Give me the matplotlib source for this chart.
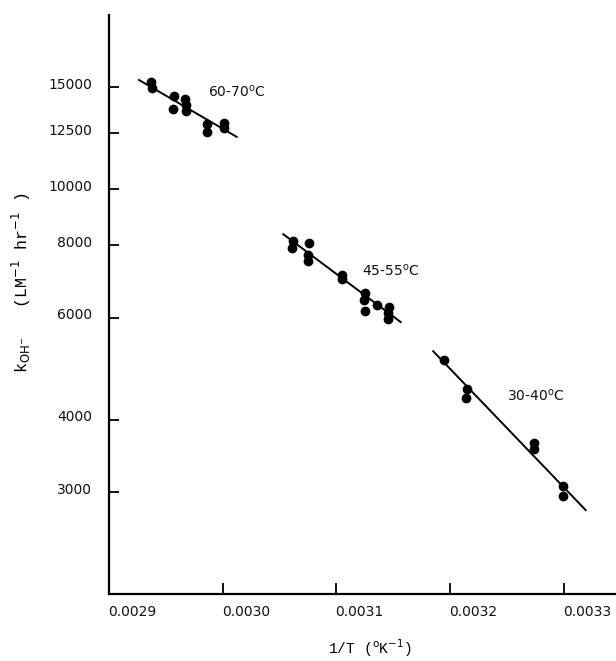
import matplotlib
matplotlib.use("Agg")
import matplotlib.pyplot as plt
import matplotlib.transforms as mtransforms
import numpy as np

# 60-70 C
x_hi = [0.0029367, 0.0029375, 0.0029572, 0.0029566, 0.0029668, 0.0029675, 0.0029675,
        0.0029861, 0.0029858, 0.0030011, 0.0030011]
y_hi = [15314, 14954, 14488, 13761, 14318, 13980, 13653, 12968, 12563, 13020, 12767]
fit_hi_x = [0.0029264, 0.0030123]
fit_hi_y = [15440, 12316]

# 45-55 C
x_mid = [0.0030616, 0.0030607, 0.0030762, 0.0030753, 0.0030748, 0.0031052, 0.0031047,
         0.0031252, 0.0031245, 0.0031252, 0.0031354, 0.0031465, 0.0031457, 0.0031457]
y_mid = [8124, 7910, 8070, 7706, 7504, 7118, 7006, 6617, 6428, 6154, 6319, 6252, 6113, 5978]
fit_mid_x = [0.0030533, 0.0031566]
fit_mid_y = [8362, 5897]

# 30-40 C
x_lo = [0.0031949, 0.0032146, 0.0032137, 0.0032738, 0.0032738, 0.0032990, 0.0032996]
y_lo = [5062, 4511, 4365, 3652, 3557, 3074, 2955]
fit_lo_x = [0.0031852, 0.0033193]
fit_lo_y = [5251, 2792]

xticks = [0.0029, 0.0030, 0.0031, 0.0032, 0.0033]
xtick_labels = ["0.0029", "0.0030", "0.0031", "0.0032", "0.0033"]
yticks = [3000, 4000, 6000, 8000, 10000, 12500, 15000]
ytick_labels = ["3000", "4000", "6000", "8000", "10000", "12500", "15000"]

groups = [
    (x_hi, y_hi, fit_hi_x, fit_hi_y, "60-70$^{\\mathrm{o}}$C", 0.0029875, 14750),
    (x_mid, y_mid, fit_mid_x, fit_mid_y, "45-55$^{\\mathrm{o}}$C", 0.0031225, 7250),
    (x_lo, y_lo, fit_lo_x, fit_lo_y, "30-40$^{\\mathrm{o}}$C", 0.0032501, 4400),
]

fig = plt.figure(figsize=(6.16, 6.61), dpi=100)
ax = fig.add_axes([0.177, 0.1014, 0.823, 0.876])

for xs, ys, fx, fy, lab, tx, ty in groups:
    ax.plot(fx, fy, color="black", lw=1.4)
    ax.plot(xs, ys, "o", color="black", ms=6)
    ax.text(tx, ty, lab, fontsize=10, ha="left", va="center", color="#111111")

ax.set_yscale("log")
ax.set_xlim(0.0029, 0.003346)
ax.set_ylim(2000, 20000)

ax.set_xticks(xticks)
ax.set_xticklabels(xtick_labels, fontsize=10, color="#111111")
ax.set_yticks(yticks)
ax.set_yticklabels(ytick_labels, fontsize=10, color="#111111")
ax.yaxis.set_minor_locator(matplotlib.ticker.NullLocator())

ax.tick_params(axis="x", direction="in", length=8, width=1.3, pad=8)
ax.tick_params(axis="y", direction="in", length=7, width=1.3, pad=12)

# labels sit a bit right of the x ticks, a bit above the y ticks
shift_x = mtransforms.ScaledTranslation(0.23, 0, fig.dpi_scale_trans)
for t in ax.get_xticklabels():
    t.set_transform(t.get_transform() + shift_x)
shift_y = mtransforms.ScaledTranslation(0, 0.04, fig.dpi_scale_trans)
for t in ax.get_yticklabels():
    t.set_transform(t.get_transform() + shift_y)

for s in ["top", "right"]:
    ax.spines[s].set_visible(False)
for s in ["left", "bottom"]:
    ax.spines[s].set_linewidth(1.6)

ax.set_xlabel("1/T ($^{\\mathrm{o}}$K$^{-1}$)", family="Liberation Mono", fontsize=10.5)
ax.set_ylabel("k$_{\\mathrm{OH}^{-}}$   (LM$^{-1}$ hr$^{-1}$ )", family="Liberation Mono",
              fontsize=12)
ax.xaxis.set_label_coords(0.515, -0.075)
ax.yaxis.set_label_coords(-0.15, 0.537)

plt.savefig("out.png", dpi=100)
